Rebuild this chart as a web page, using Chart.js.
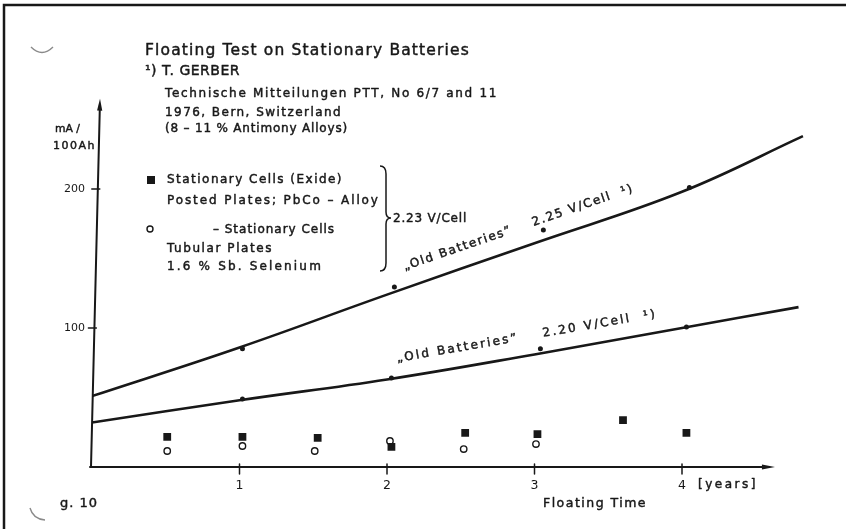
<!DOCTYPE html>
<html>
<head>
<meta charset="utf-8">
<script src="https://cdn.jsdelivr.net/npm/chart.js@4.4.1/dist/chart.umd.min.js"></script>
<style>
  html, body { margin: 0; padding: 0; background: #fff; }
  canvas { display: block; }
</style>
</head>
<body>
<canvas id="c" width="846" height="529"></canvas>
<script>
// Float current (mA per 100 Ah) against floating time (years)
const curveYears225 = [0, 1, 2, 3, 4, 4.82];
const curve225 = [51, 86, 124, 161, 198, 238];
const curveYears220 = [0, 1, 2, 3, 4, 4.79];
const curve220 = [32, 48, 63, 81, 100, 115];

const dotYears225 = [1.02, 2.05, 3.06, 4.05];
const dots225 = [85, 129.5, 170.5, 201];
const dotYears220 = [1.02, 2.03, 3.04, 4.03];
const dots220 = [49, 64, 85, 100.7];

const exideYears = [0.51, 1.02, 1.53, 2.03, 2.53, 3.02, 3.6, 4.03];
const exide = [21.6, 21.6, 20.9, 14.4, 24.5, 23.7, 33.8, 24.5];
const tubularYears = [0.51, 1.02, 1.51, 2.02, 2.52, 3.01];
const tubular = [11.5, 15.1, 11.5, 18.7, 12.9, 16.5];

const xTicks = [1, 2, 3, 4];
const yTicks = [100, 200];

const INK = '#181818';
const FAMILY = '"DejaVu Sans", sans-serif';

function pts(xs, ys) { return xs.map((x, i) => ({ x, y: ys[i] })); }

// Draw text over a given run length: widen with letter spacing, narrow by scaling
function fitText(ctx, str, x, y, size, width, weight) {
  ctx.save();
  ctx.font = (weight || 'normal') + ' ' + size + 'px ' + FAMILY;
  ctx.letterSpacing = '0px';
  const w = ctx.measureText(str).width;
  const n = Array.from(str).length;
  ctx.translate(x, y);
  if (width && width >= w) {
    ctx.letterSpacing = ((width - w) / n).toFixed(2) + 'px';
  } else if (width) {
    ctx.scale(width / w, 1);
  }
  ctx.lineWidth = 0.45;
  ctx.lineJoin = 'round';
  ctx.strokeStyle = ctx.fillStyle;
  ctx.fillText(str, 0, 0);
  ctx.strokeText(str, 0, 0);
  ctx.restore();
}

function arrow(ctx, tx, ty, dx, dy, len, half) {
  const nx = -dy, ny = dx;
  ctx.beginPath();
  ctx.moveTo(tx, ty);
  ctx.lineTo(tx - dx * len + nx * half, ty - dy * len + ny * half);
  ctx.lineTo(tx - dx * len - nx * half, ty - dy * len - ny * half);
  ctx.closePath();
  ctx.fill();
}

const decor = {
  id: 'decor',
  beforeDatasetsDraw(chart) {
    const ctx = chart.ctx;
    const xs = chart.scales.x, ys = chart.scales.y;
    const x0 = xs.getPixelForValue(0), y0 = ys.getPixelForValue(0);
    const yTop = ys.getPixelForValue(265);
    const xEnd = xs.getPixelForValue(4.63);
    // the drawn ordinate leans slightly to the right
    const lean = v => -1 + 9 * v / 265;
    ctx.save();
    ctx.strokeStyle = INK;
    ctx.fillStyle = INK;
    ctx.lineCap = 'round';
    // frame edges
    ctx.lineWidth = 2.5;
    ctx.beginPath();
    ctx.moveTo(4, 529); ctx.lineTo(4, 5); ctx.lineTo(846, 5);
    ctx.stroke();
    // axes
    ctx.lineWidth = 2;
    ctx.beginPath();
    ctx.moveTo(x0 + lean(0), y0);
    ctx.lineTo(x0 + lean(262), yTop + 6);
    ctx.moveTo(x0 - 2, y0);
    ctx.lineTo(xEnd - 8, y0);
    ctx.stroke();
    arrow(ctx, x0 + lean(265), yTop, 9 / 369, -1, 12, 2.6);
    arrow(ctx, xEnd, y0, 1, 0, 13, 2.6);
    // tick marks
    ctx.lineWidth = 1.5;
    ctx.beginPath();
    xTicks.forEach(v => {
      const p = xs.getPixelForValue(v);
      ctx.moveTo(p, y0 - 3); ctx.lineTo(p, y0 + 7);
    });
    yTicks.forEach(v => {
      const p = ys.getPixelForValue(v);
      const ax = x0 + lean(v);
      ctx.moveTo(ax - 6, p); ctx.lineTo(ax + 2, p);
    });
    ctx.stroke();
    ctx.restore();
  },
  afterDraw(chart) {
    const ctx = chart.ctx;
    const xs = chart.scales.x, ys = chart.scales.y;
    ctx.save();
    ctx.fillStyle = INK;
    ctx.strokeStyle = INK;
    ctx.textBaseline = 'alphabetic';
    ctx.textAlign = 'left';

    // heading and reference
    fitText(ctx, 'Floating Test on Stationary Batteries', 145, 55, 15.5, 325);
    fitText(ctx, '\u00B9) T. GERBER', 145, 75, 14, 95);
    fitText(ctx, 'Technische Mitteilungen PTT, No 6/7 and 11', 165, 97, 12, 333);
    fitText(ctx, '1976, Bern, Switzerland', 165, 116, 12, 177);
    fitText(ctx, '(8 \u2013 11 % Antimony Alloys)', 165, 132, 12, 183);

    // axis units
    fitText(ctx, 'mA /', 55, 132, 11, 25);
    fitText(ctx, '100Ah', 53, 149, 11, 43);

    // key
    ctx.fillRect(147, 176, 8, 8);
    fitText(ctx, 'Stationary Cells (Exide)', 167, 183, 12, 176);
    fitText(ctx, 'Posted Plates; PbCo \u2013 Alloy', 167, 204, 12, 213);
    ctx.lineWidth = 1.4;
    ctx.beginPath();
    ctx.arc(150, 229, 3, 0, Math.PI * 2);
    ctx.stroke();
    fitText(ctx, '\u2013 Stationary Cells', 213, 233, 12, 122);
    fitText(ctx, 'Tubular Plates', 167, 252, 12, 106);
    fitText(ctx, '1.6 % Sb. Selenium', 167, 270, 12, 156);

    // brace grouping both cell types
    const bx0 = 380, bx1 = 386, bx2 = 391, bt = 166, bm = 218, bb = 271;
    ctx.lineWidth = 1.5;
    ctx.beginPath();
    ctx.moveTo(bx0, bt);
    ctx.quadraticCurveTo(bx1, bt, bx1, bt + 8);
    ctx.lineTo(bx1, bm - 6);
    ctx.quadraticCurveTo(bx1, bm, bx2, bm);
    ctx.quadraticCurveTo(bx1, bm, bx1, bm + 6);
    ctx.lineTo(bx1, bb - 8);
    ctx.quadraticCurveTo(bx1, bb, bx0, bb);
    ctx.stroke();
    fitText(ctx, '2.23 V/Cell', 393, 222, 12, 74);

    // curve captions
    const cap = (str, vx, vy, deg, len) => {
      ctx.save();
      ctx.translate(xs.getPixelForValue(vx), ys.getPixelForValue(vy));
      ctx.rotate(-deg * Math.PI / 180);
      fitText(ctx, str, 0, 0, 12, len);
      ctx.restore();
    };
    cap('\u201EOld Batteries\u201D    2.25 V/Cell  \u00B9)', 2.12, 141.5, 19, 243);
    cap('\u201EOld Batteries\u201D    2.20 V/Cell  \u00B9)', 2.07, 75.5, 9.8, 264);

    // abscissa captions
    fitText(ctx, '[years]', 698, 488, 12, 60);
    fitText(ctx, 'Floating Time', 543, 507, 12.5, 104);
    fitText(ctx, 'g. 10', 60, 507, 13, 38);

    // punch-hole traces at the left edge
    ctx.strokeStyle = '#8a8a8a';
    ctx.lineWidth = 1.4;
    ctx.beginPath();
    ctx.moveTo(31, 47);
    ctx.quadraticCurveTo(42, 58, 53, 47);
    ctx.moveTo(30, 508);
    ctx.quadraticCurveTo(33, 519, 45, 520);
    ctx.stroke();
    ctx.restore();
  }
};

new Chart(document.getElementById('c'), {
  type: 'scatter',
  data: {
    datasets: [
      { data: pts(dotYears225, dots225), pointRadius: 2.5, backgroundColor: INK, borderWidth: 0 },
      { data: pts(dotYears220, dots220), pointRadius: 2.5, backgroundColor: INK, borderWidth: 0 },
      { data: pts(exideYears, exide), pointStyle: 'rect', pointRadius: 5.5, backgroundColor: INK, borderWidth: 0 },
      { data: pts(tubularYears, tubular), pointStyle: 'circle', pointRadius: 3.2, backgroundColor: '#fff', borderColor: INK, borderWidth: 1.4 },
      { type: 'line', data: pts(curveYears225, curve225), borderColor: INK, borderWidth: 2.6, pointRadius: 0, tension: 0.4, fill: false },
      { type: 'line', data: pts(curveYears220, curve220), borderColor: INK, borderWidth: 2.6, pointRadius: 0, tension: 0.4, fill: false }
    ]
  },
  options: {
    responsive: false,
    animation: false,
    devicePixelRatio: 1,
    layout: { padding: { left: 0, top: 91.7, right: 31.25, bottom: 0 } },
    plugins: { legend: { display: false }, tooltip: { enabled: false } },
    scales: {
      x: {
        type: 'linear', min: 0, max: 4.9,
        afterFit: s => { s.height = 62; },
        afterBuildTicks: s => { s.ticks = xTicks.map(v => ({ value: v })); },
        grid: { display: false, drawTicks: false },
        border: { display: false },
        ticks: { color: INK, padding: 11, font: { family: FAMILY, size: 12.5 } }
      },
      y: {
        type: 'linear', min: 0, max: 270,
        afterFit: s => { s.width = 92; },
        afterBuildTicks: s => { s.ticks = yTicks.map(v => ({ value: v })); },
        grid: { display: false, drawTicks: false },
        border: { display: false },
        ticks: { color: INK, padding: 7, font: { family: FAMILY, size: 11 } }
      }
    }
  },
  plugins: [decor]
});
</script>
</body>
</html>
